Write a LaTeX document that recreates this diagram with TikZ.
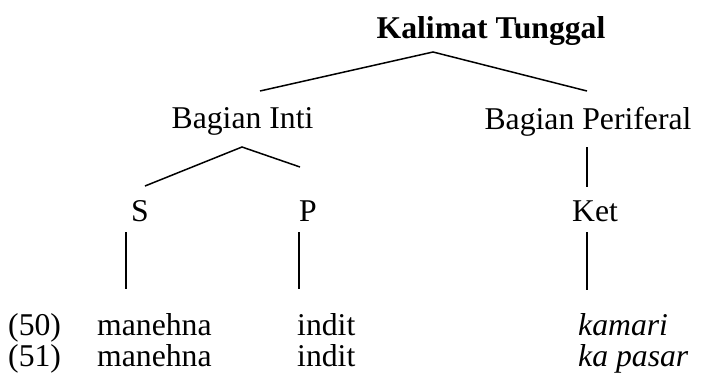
\documentclass[tikz,border=0pt]{standalone}
\usepackage{fontspec}
\setmainfont{Liberation Serif}
\begin{document}
\begin{tikzpicture}[x=1pt,y=-1pt,
  every node/.style={inner sep=0pt, font=\fontsize{31.7}{38}\selectfont},
  lbl/.style={anchor=base},
  cell/.style={anchor=base west},
  branch/.style={line width=1.5pt}]
\useasboundingbox (0,0) rectangle (702,373);

% tree labels
\node[lbl] (root) at (491,38) {\textbf{Kalimat Tunggal}};
\node[lbl] (inti) at (242.5,128) {Bagian Inti};
\node[lbl] (peri) at (588,129) {Bagian Periferal};
\node[lbl] (s) at (140,221) {S};
\node[lbl] (p) at (308,221) {P};
\node[lbl] (ket) at (595,221) {Ket};

% branch end points
\coordinate (rootApex) at (433,52);
\coordinate (intiTop) at (260,91);
\coordinate (periTop) at (587,91);
\coordinate (intiApex) at (242,147);
\coordinate (sTop) at (145,186);
\coordinate (pTop) at (300,167);
\coordinate (periDownA) at (587,147);
\coordinate (periDownB) at (587,187);
\coordinate (sDownA) at (126,232);
\coordinate (sDownB) at (126,289);
\coordinate (pDownA) at (299,232);
\coordinate (pDownB) at (299,289);
\coordinate (ketDownA) at (587,232);
\coordinate (ketDownB) at (587,290);

\draw[branch] (intiTop) -- (rootApex) -- (periTop);
\draw[branch] (sTop) -- (intiApex) -- (pTop);
\draw[branch] (periDownA) -- (periDownB);
\draw[branch] (sDownA) -- (sDownB);
\draw[branch] (pDownA) -- (pDownB);
\draw[branch] (ketDownA) -- (ketDownB);

% example sentences
\node[cell] (n50) at (8,335) {(50)};
\node[cell] (s50) at (97,335) {manehna};
\node[cell] (p50) at (297,335) {indit};
\node[cell] (k50) at (578,335) {\textit{kamari}};
\node[cell] (n51) at (8,366) {(51)};
\node[cell] (s51) at (97,366) {manehna};
\node[cell] (p51) at (297,366) {indit};
\node[cell] (k51) at (578,366) {\textit{ka pasar}};
\end{tikzpicture}
\end{document}
